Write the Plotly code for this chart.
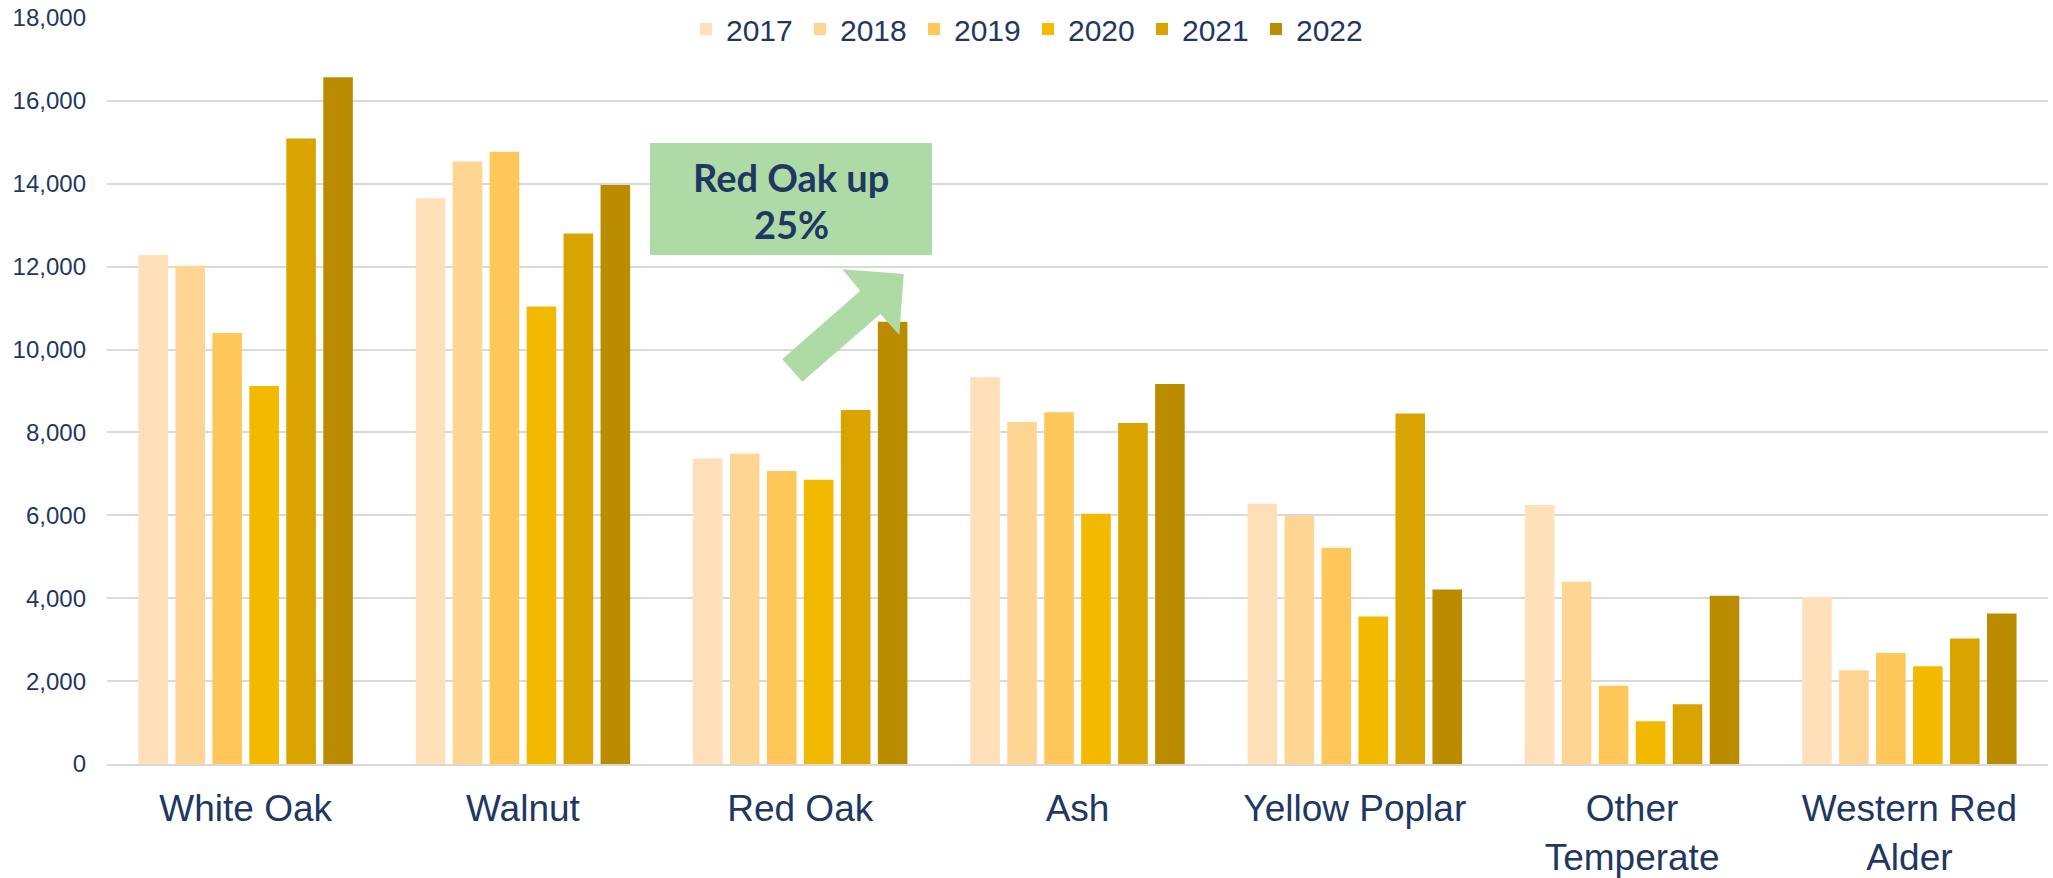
import plotly.graph_objects as go

categories = ["White Oak", "Walnut", "Red Oak", "Ash", "Yellow Poplar",
              "Other<br>Temperate", "Western Red<br>Alder"]
years = ["2017", "2018", "2019", "2020", "2021", "2022"]

v2017 = [12280, 13650, 7370, 9330, 6280, 6250, 4030]
v2018 = [12020, 14540, 7490, 8250, 5990, 4400, 2260]
v2019 = [10400, 14770, 7070, 8490, 5220, 1890, 2680]
v2020 = [9120, 11040, 6860, 6040, 3560, 1030, 2360]
v2021 = [15090, 12800, 8540, 8230, 8460, 1440, 3030]
v2022 = [16570, 13970, 10670, 9170, 4210, 4060, 3630]
series = [v2017, v2018, v2019, v2020, v2021, v2022]

callout_lines = ["Red Oak up", "25%"]

colors = ["#FFE0B9", "#FFD594", "#FFC75A", "#F3B800", "#DAA400", "#BC8C00"]
navy = "#1F3763"
grid = "#D9D9D9"
green = "#AEDAA6"

fig = go.Figure()
for yr, vals, c in zip(years, series, colors):
    fig.add_trace(go.Bar(name=yr, x=categories, y=vals, marker_color=c,
                         marker_line_width=0))

L, R, T, B = 107, 5, 18, 114
W, H = 2053, 878
pw, ph = W - L - R, H - T - B

def px(x):
    return (x - L) / pw

def py(y):
    return (H - B - y) / ph

# callout box
fig.add_shape(type="rect", xref="paper", yref="paper",
              x0=px(650), x1=px(932), y0=py(255), y1=py(143),
              fillcolor=green, line_width=0, layer="above")
# block arrow
pts = [(782.3, 359.3), (802.3, 381.7), (880.3, 314), (899.3, 335),
       (903.7, 274), (842.3, 269.3), (860.3, 290.7)]
path = "M " + " L ".join(f"{px(a):.4f},{py(b):.4f}" for a, b in pts) + " Z"
fig.add_shape(type="path", xref="paper", yref="paper", path=path,
              fillcolor=green, line_width=0, layer="above")
for txt, yc in zip(callout_lines, [177, 224]):
    fig.add_annotation(xref="paper", yref="paper", x=px(791), y=py(yc),
                       text=txt, showarrow=False,
                       font=dict(family="Lato, Open Sans, sans-serif", size=38,
                                 color=navy, weight="bold"),
                       xanchor="center", yanchor="middle", align="center")

fig.update_layout(
    width=W, height=H,
    margin=dict(l=L, r=R, t=T, b=B, autoexpand=False),
    paper_bgcolor="white", plot_bgcolor="white",
    barmode="group", bargap=0.2, bargroupgap=0.2,
    font=dict(family="Liberation Sans, Arial, sans-serif", color=navy),
    legend=dict(orientation="h", x=px(686), xanchor="left", y=py(29),
                yanchor="middle", font=dict(size=30, color=navy),
                bgcolor="rgba(0,0,0,0)", entrywidth=69, traceorder="normal"),
    showlegend=True,
)
fig.update_xaxes(showgrid=False, showline=True, linecolor=grid, linewidth=2,
                 ticks="", tickfont=dict(size=37, color=navy),
                 ticklabelstandoff=11)
fig.update_yaxes(range=[0, 18000], dtick=2000, tickformat=",d",
                 showgrid=True, gridcolor=grid, gridwidth=2,
                 zeroline=False, showline=False, ticks="",
                 tickfont=dict(size=24, color=navy), ticklabelstandoff=20)

fig.write_html("out.html", config={"displayModeBar": False},
               post_script="document.body.style.margin='0';"
                           "document.body.style.overflow='hidden';")
